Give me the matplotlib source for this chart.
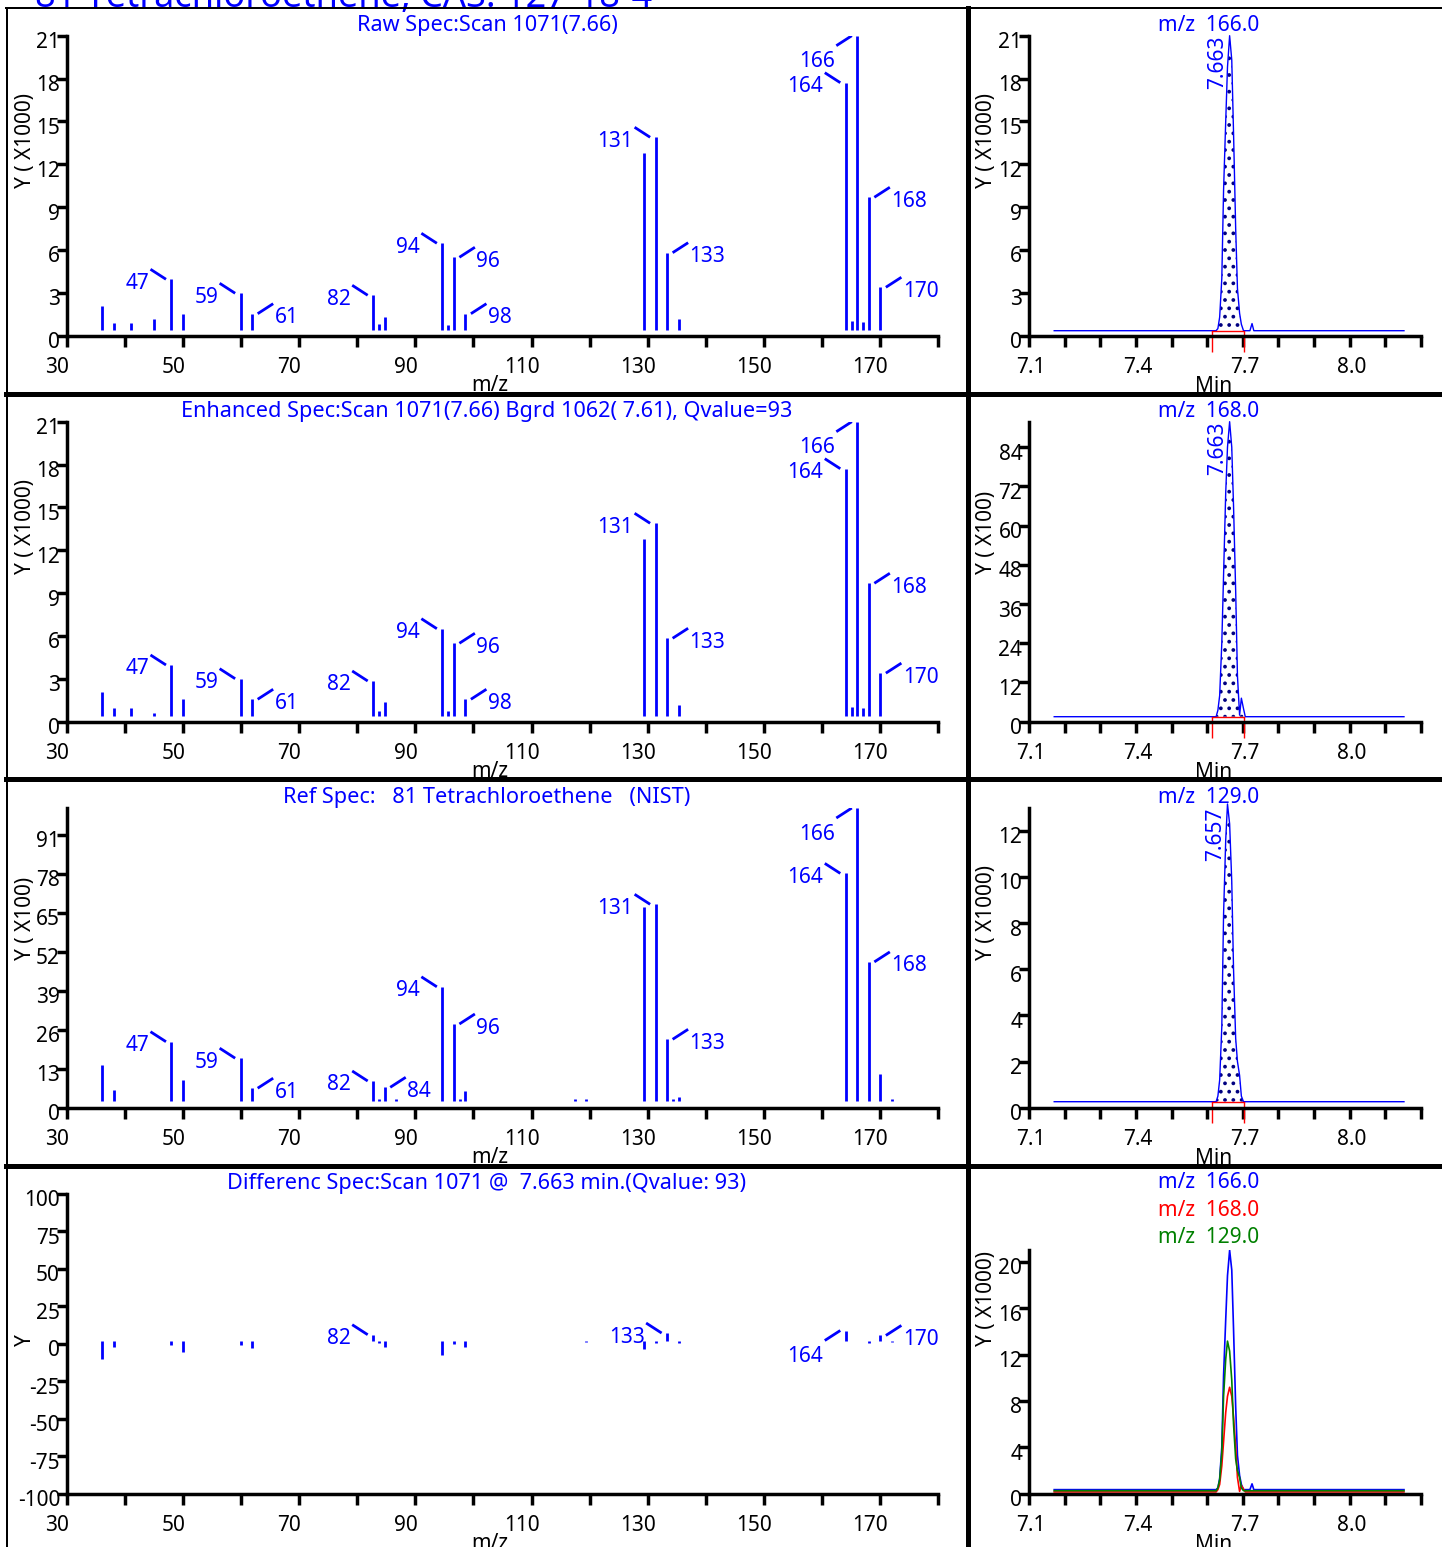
import numpy as np
import matplotlib
matplotlib.use('Agg')
from matplotlib import pyplot as plt
from matplotlib.lines import Line2D
from matplotlib.transforms import ScaledTranslation

plt.rcParams['font.family'] = ['Noto Sans', 'DejaVu Sans']
plt.rcParams['axes.unicode_minus'] = False
plt.rcParams['hatch.linewidth'] = 1.5

BLUE = '#0000ff'
RED = '#ff0000'
GREEN = '#008000'
NAVY = '#000080'

# Raw and enhanced spectra of scan 1071 (Y x1000)
scan_mz = [35, 37, 40, 44, 47, 49, 59, 61, 82, 83, 84, 94, 95, 96, 98,
           129, 131, 133, 135, 164, 165, 166, 167, 168, 170]
raw_int = [2.1, 0.91, 0.91, 1.15, 3.95, 1.54, 2.97, 1.54, 2.83, 0.8, 1.33, 6.47, 0.75, 5.49, 1.54,
           12.77, 13.89, 5.81, 1.15, 17.71, 1.0, 21.0, 0.94, 9.69, 3.39]
enh_int = [2.1, 0.93, 0.93, 0.59, 3.97, 1.57, 3.01, 1.57, 2.85, 0.77, 1.36, 6.51, 0.77, 5.49, 1.57,
           12.77, 13.89, 5.84, 1.17, 17.71, 1.0, 21.0, 0.93, 9.69, 3.4]

# NIST reference spectrum (Y x100)
ref_mz = [35, 37, 47, 49, 59, 61, 82, 83, 84, 86, 94, 96, 97, 98, 117, 119,
          129, 131, 133, 134, 135, 164, 166, 168, 170, 172]
ref_int = [14.2, 5.9, 22.0, 9.2, 16.5, 6.5, 8.9, 2.8, 6.8, 2.8, 40.3, 27.9, 2.8, 5.7, 2.8, 2.8,
           67.0, 67.8, 22.8, 2.8, 3.7, 78.1, 99.9, 48.6, 11.2, 2.8]

# difference spectrum
diff_mz = [35, 37, 47, 49, 59, 61, 82, 83, 84, 94, 96, 98, 119,
           129, 131, 133, 135, 164, 168, 170, 172]
diff_int = [-10.3, -1.9, -0.7, -5.6, -0.7, -2.9, 6.0, 0.4, -2.5, -7.4, -0.3, -1.9, 1.1,
            -3.4, 0.4, 7.1, 0.4, 8.8, 0.4, 5.5, 1.0]

# labelled peaks: u/d = leader up/down, l/r = label left/right
scan_labels = {47: 'ul', 59: 'ul', 61: 'ur', 82: 'ul', 94: 'ul', 96: 'ur', 98: 'ur',
               131: 'ul', 133: 'ur', 164: 'ul', 166: 'dl', 168: 'ur', 170: 'ur'}
ref_labels = {47: 'ul', 59: 'ul', 61: 'ur', 82: 'ul', 84: 'ur', 94: 'ul', 96: 'ur',
              131: 'ul', 133: 'ur', 164: 'ul', 166: 'dl', 168: 'ur'}
diff_labels = {82: 'ul', 133: 'ul', 164: 'dl', 170: 'ur'}

# extracted ion chromatograms
chrom_t = [7.170, 7.625, 7.630, 7.635, 7.641, 7.646, 7.652, 7.657, 7.663, 7.669, 7.674,
           7.680, 7.685, 7.691, 7.696, 7.702, 7.707, 7.720, 7.726, 7.731, 8.153]
ion166 = [0.35, 0.35, 0.5, 1.3, 4.0, 10.2, 15.0, 18.8, 21.0, 19.3, 14.2,
          7.5, 3.3, 1.57, 0.8, 0.35, 0.35, 0.35, 0.85, 0.35, 0.35]          # x1000
ion168 = [1.53, 1.53, 3.5, 8.0, 24.0, 45.0, 70.0, 84.0, 91.8, 84.0, 66.0,
          40.0, 14.0, 2.0, 7.2, 4.0, 1.53, 1.53, 1.53, 1.53, 1.53]          # x100
ion129 = [0.26, 0.26, 0.5, 1.2, 3.5, 8.4, 11.6, 13.16, 12.3, 9.8, 6.0,
          3.0, 2.0, 1.4, 0.5, 0.26, 0.26, 0.26, 0.26, 0.26, 0.26]           # x1000
INT_START, INT_END = 7.614, 7.704

W, H, DPI = 1442, 1547, 100
LEFT_X, LEFT_W = 67, 871
RIGHT_X, RIGHT_W = 1029.3, 391.4
AXIS_Y0 = 335.7
ROW_H = 386
PLOT_H = 300
MZ_LO, MZ_HI = 28.87, 180.0
FS = 15
TITLE_FS = 15.6

fig = plt.figure(figsize=(W / DPI, H / DPI), dpi=DPI)


def fx(x):
    return x / W


def fy(y):
    return 1 - y / H


def nudge(labels, dx, dy):
    off = ScaledTranslation(dx / DPI, -dy / DPI, fig.dpi_scale_trans)
    for lbl in labels:
        lbl.set_transform(lbl.get_transform() + off)


def px_axes(left, bottom, width, height):
    ax = fig.add_axes([fx(left), fy(bottom), width / W, height / H])
    ax.patch.set_visible(False)
    for s in ('top', 'right'):
        ax.spines[s].set_visible(False)
    for s in ('left', 'bottom'):
        ax.spines[s].set_linewidth(2.5)
    ax.tick_params(direction='out', width=2.5, labelsize=FS)
    ax.tick_params(axis='x', length=8, pad=7.4)
    ax.tick_params(axis='y', length=7.2, pad=-2.2)
    return ax


def spectrum(row, title, mz, inten, labels, ylim, yticks, ylabel, gap_px):
    y_axis = AXIS_Y0 + row * ROW_H
    ax = px_axes(LEFT_X, y_axis, LEFT_W, PLOT_H)
    ax.set_xlim(MZ_LO, MZ_HI)
    ax.set_ylim(*ylim)
    sx = LEFT_W / (MZ_HI - MZ_LO)
    sy = PLOT_H / (ylim[1] - ylim[0])
    ax.vlines(mz, gap_px / sy, inten, color=BLUE, lw=2.0)
    for m, side in labels.items():
        v = inten[mz.index(m)]
        sgn = -1 if side[1] == 'l' else 1
        up = 1 if side[0] == 'u' else -1
        ax.plot([m + sgn * 5.5 / sx, m + sgn * 21 / sx], [v, v + up * 10 / sy],
                color=BLUE, lw=2.0, solid_capstyle='butt')
        ty = v - (9.5 if up > 0 else 31.5) / sy
        ax.text(m + sgn * 22.5 / sx, ty, str(m), color=BLUE, fontsize=FS,
                ha='right' if sgn < 0 else 'left', va='baseline')

    ax.set_xticks(np.linspace(MZ_LO, MZ_HI, 16))
    ax.set_xticklabels([str(30 + 10 * i) if i % 2 == 0 and i < 15 else '' for i in range(16)])
    ax.set_yticks(yticks)
    ax.set_yticklabels([str(v) for v in yticks])
    nudge(ax.get_xticklabels(), -10, 0)
    nudge(ax.get_yticklabels(), 0, 4.5)

    fig.text(fx(487), fy(30.7 + row * ROW_H), title, color=BLUE, fontsize=TITLE_FS,
             ha='center', va='baseline')
    fig.text(fx(490), fy(391 + row * ROW_H), 'm/z', fontsize=FS, ha='center', va='baseline')
    fig.text(fx(25.8), fy(y_axis - 148), ylabel, fontsize=FS, rotation=90,
             ha='center', va='bottom')
    return ax


def chrom_axes(row, height, ylim, yticks, ylabel):
    y_axis = AXIS_Y0 + row * ROW_H
    ax = px_axes(RIGHT_X, y_axis, RIGHT_W, height)
    ax.set_xlim(7.1, 8.2)
    ax.set_ylim(*ylim)
    xt = np.round(np.arange(7.1, 8.25, 0.1), 1)
    ax.set_xticks(xt)
    ax.set_xticklabels([f'{v:.1f}' if i % 3 == 0 else '' for i, v in enumerate(xt)])
    ax.set_yticks(yticks)
    ax.set_yticklabels([str(v) for v in yticks])
    nudge(ax.get_xticklabels(), 2, 0)
    nudge(ax.get_yticklabels(), 0, 4.5)
    fig.text(fx(1213.3), fy(391.7 + row * ROW_H), 'Min', fontsize=FS, ha='center', va='baseline')
    fig.text(fx(986.7), fy(y_axis - 148), ylabel, fontsize=FS, rotation=90,
             ha='center', va='bottom')
    return ax


def chrom(row, ion, t, y, ylim, yticks, ylabel):
    ax = chrom_axes(row, PLOT_H, ylim, yticks, ylabel)
    t = np.array(t)
    y = np.array(y)
    floor = y[0]
    sx = RIGHT_W / 1.1
    sy = PLOT_H / (ylim[1] - ylim[0])
    inside = (t >= INT_START) & (t <= INT_END)
    ax.fill_between(t, floor, y, where=inside, facecolor='none', edgecolor=NAVY,
                    hatch='..', linewidth=0)
    ax.plot(t, y, color=BLUE, lw=1.0, clip_on=False)
    ax.plot([INT_START, INT_END], [floor, floor], color=RED, lw=1.0)
    ax.vlines([INT_START, INT_END], floor - 21 / sy, floor, color=RED, lw=1.0, clip_on=False)
    k = int(np.argmax(y))
    ax.text(t[k] - 1.5 / sx, ylim[1], f'{t[k]:.3f}', rotation=90, color=BLUE,
            fontsize=FS, ha='right', va='top')
    fig.text(fx(1208.8), fy(30.7 + row * ROW_H), f'm/z  {ion:.1f}', color=BLUE,
             fontsize=FS, ha='center', va='baseline')


# left column: spectra
spectrum(0, 'Raw Spec:Scan 1071(7.66)', scan_mz, raw_int, scan_labels,
         (0, 21), list(range(0, 22, 3)), 'Y ( X1000)', 5.5)
spectrum(1, 'Enhanced Spec:Scan 1071(7.66) Bgrd 1062( 7.61), Qvalue=93', scan_mz, enh_int,
         scan_labels, (0, 21), list(range(0, 22, 3)), 'Y ( X1000)', 5.5)
spectrum(2, 'Ref Spec:   81 Tetrachloroethene   (NIST)', ref_mz, ref_int, ref_labels,
         (0, 100), list(range(0, 92, 13)), 'Y ( X100)', 6.5)
spectrum(3, 'Differenc Spec:Scan 1071 @  7.663 min.(Qvalue: 93)', diff_mz, diff_int, diff_labels,
         (-100, 100), list(range(-100, 101, 25)), 'Y', 2.9)

# right column: ion chromatograms
chrom(0, 166.0, chrom_t, ion166, (0, 21), list(range(0, 22, 3)), 'Y ( X1000)')
chrom(1, 168.0, chrom_t, ion168, (0, 91.8), list(range(0, 85, 12)), 'Y ( X100)')
chrom(2, 129.0, chrom_t, ion129, (0, 13.0), list(range(0, 13, 2)), 'Y ( X1000)')

ax = chrom_axes(3, 243.5, (0, 21), list(range(0, 21, 4)), 'Y ( X1000)')
overlay = [(166.0, np.array(ion166), BLUE),
           (168.0, np.array(ion168) / 10, RED),
           (129.0, np.array(ion129), GREEN)]
for i, (ion, y, c) in enumerate(overlay):
    ax.plot(chrom_t, y, color=c, lw=1.2)
    fig.text(fx(1208.8), fy(1188.3 + 27.5 * i), f'm/z  {ion:.1f}', color=c,
             fontsize=FS, ha='center', va='baseline')

# compound title, mostly above the frame
fig.text(fx(35), fy(6.5), '81 Tetrachloroethene, CAS: 127-18-4', color=BLUE,
         fontsize=26, ha='left', va='baseline')


# panel frame
def frame_line(x0, y0, x1, y1, lw_px):
    fig.add_artist(Line2D([fx(x0), fx(x1)], [fy(y0), fy(y1)], transform=fig.transFigure,
                          color='black', lw=lw_px * 0.72, zorder=10))


frame_line(6, 8.3, W, 8.3, 2)
frame_line(7, 8, 7, H, 2)
frame_line(967.5, 8, 967.5, H, 5)
for yb in (393.5, 779, 1165.5):
    frame_line(6, yb, W, yb, 5)

fig.savefig('out.png', dpi=DPI)
